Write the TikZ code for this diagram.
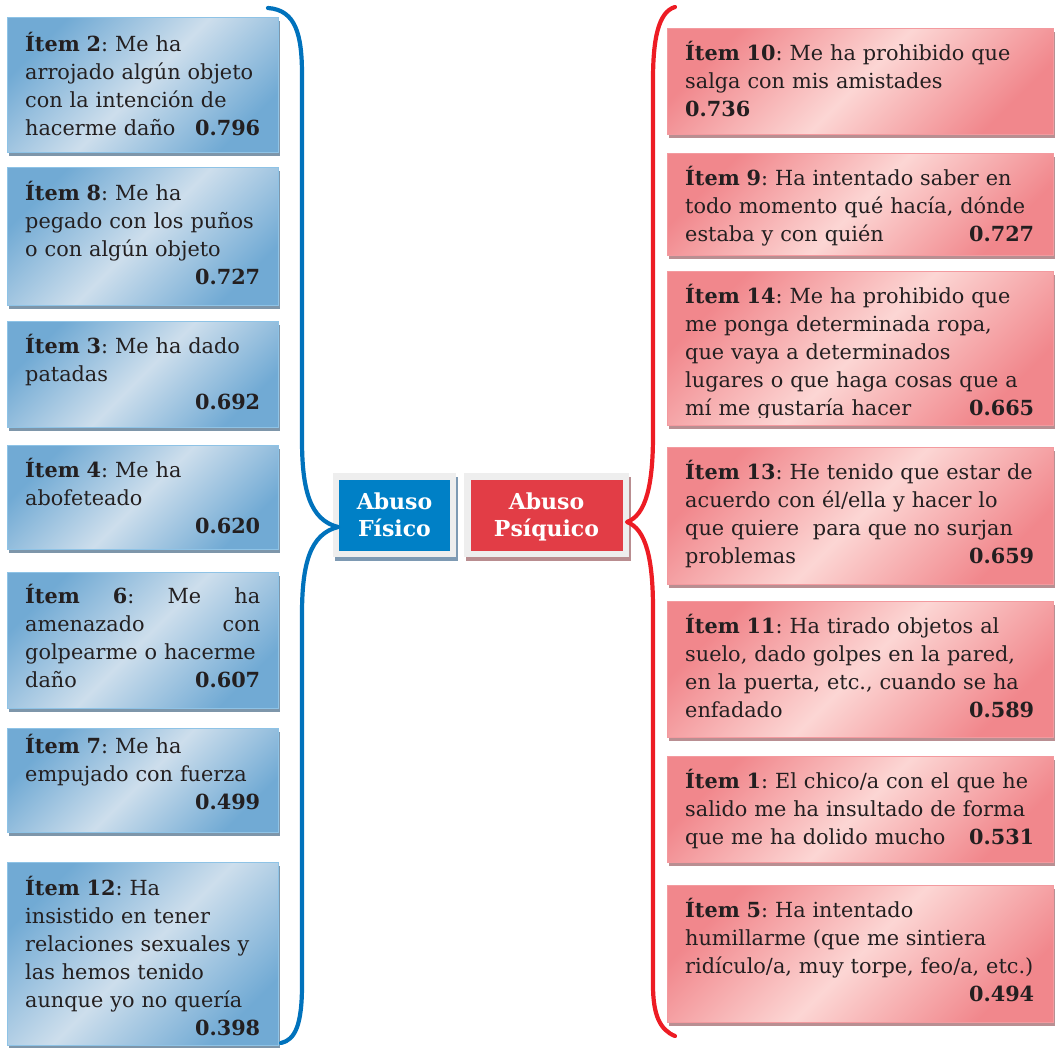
\documentclass[tikz,border=0pt]{standalone}
\usepackage{fontspec}
\setmainfont{DejaVu Serif}
\usetikzlibrary{calc}
\frenchspacing

\definecolor{txt}{HTML}{231F20}
\definecolor{bdark}{HTML}{71AAD4}
\definecolor{blight}{HTML}{CDDEEC}
\definecolor{bline}{HTML}{8EC3E6}
\definecolor{bshadow}{HTML}{7E96AA}
\definecolor{rdark}{HTML}{F1878C}
\definecolor{rlight}{HTML}{FCD6D4}
\definecolor{rline}{HTML}{F39A9F}
\definecolor{rshadow}{HTML}{B98F92}
\definecolor{cblue}{HTML}{0080C6}
\definecolor{cred}{HTML}{E23D46}
\definecolor{cframe}{HTML}{EEEEEE}
\definecolor{cbshadow}{HTML}{7E9AB3}
\definecolor{crshadow}{HTML}{B98D90}
\definecolor{braceblue}{HTML}{0072BC}
\definecolor{bracered}{HTML}{ED1C24}

% keep a line of box text on one line
\newcommand{\oneline}[1]{\mbox{#1}}

\begin{document}
\begin{tikzpicture}[x=1pt,y=-1pt,
  itembox/.style={rectangle, anchor=north west, inner sep=0, line width=0.8pt},
  bluebox/.style={itembox, draw=bline,
    preaction={fill=bshadow, transform canvas={xshift=2pt,yshift=-4pt}},
    top color=bdark, bottom color=bdark, middle color=blight, shading angle=45},
  redbox/.style={itembox, draw=rline,
    preaction={fill=rshadow, transform canvas={xshift=2pt,yshift=-4pt}},
    top color=rdark, bottom color=rdark, middle color=rlight, shading angle=45},
  lefttext/.style={anchor=base west, text width=235pt, align=left, inner sep=0,
    text=txt, font=\fontsize{20.8}{28}\selectfont},
  righttext/.style={lefttext, text width=349pt},
  catbox/.style={rectangle, draw=cframe, line width=6.5pt, minimum height=77.5pt,
    inner sep=0, text=white, align=center,
    font=\fontsize{22}{27}\selectfont\bfseries},
  bracestroke/.style={line width=4.2pt, line join=round, line cap=round}]

\useasboundingbox (0,0) rectangle (1055,1047);

% ---- left column: physical abuse items ----
\node[bluebox, minimum width=271pt, minimum height=135pt] (b2) at (7,17) {};
\node[lefttext] (t2) at ([shift={(18,34)}]b2.north west)
  {\textbf{Ítem 2}: Me ha\\\oneline{arrojado algún objeto}\\con la intención de\\hacerme daño\hfill\textbf{0.796}};

\node[bluebox, minimum width=271pt, minimum height=138pt] (b8) at (7,167) {};
\node[lefttext] (t8) at ([shift={(18,33)}]b8.north west)
  {\textbf{Ítem 8}: Me ha\\\oneline{pegado con los puños}\\o con algún objeto\\\hspace*{\fill}\textbf{0.727}};

\node[bluebox, minimum width=271pt, minimum height=106pt] (b3) at (7,321) {};
\node[lefttext] (t3) at ([shift={(18,32)}]b3.north west)
  {\oneline{\textbf{Ítem 3}: Me ha dado}\\patadas\\\hspace*{\fill}\textbf{0.692}};

\node[bluebox, minimum width=271pt, minimum height=104pt] (b4) at (7,445) {};
\node[lefttext] (t4) at ([shift={(18,32)}]b4.north west)
  {\textbf{Ítem 4}: Me ha\\abofeteado\\\hspace*{\fill}\textbf{0.620}};

\node[bluebox, minimum width=271pt, minimum height=136pt] (b6) at (7,572) {};
\node[lefttext] (t6) at ([shift={(18,31)}]b6.north west)
  {\textbf{Ítem}\hfill\textbf{6}:\hfill Me\hfill ha\\amenazado\hfill con\\\oneline{golpearme o hacerme}\\daño\hfill\textbf{0.607}};

\node[bluebox, minimum width=271pt, minimum height=104pt] (b7) at (7,728) {};
\node[lefttext] (t7) at ([shift={(18,25)}]b7.north west)
  {\textbf{Ítem 7}: Me ha\\\oneline{empujado con fuerza}\\\hspace*{\fill}\textbf{0.499}};

\node[bluebox, minimum width=271pt, minimum height=183pt] (b12) at (7,862) {};
\node[lefttext] (t12) at ([shift={(18,33)}]b12.north west)
  {\textbf{Ítem 12}: Ha\\insistido en tener\\\oneline{relaciones sexuales y}\\las hemos tenido\\\oneline{aunque yo no quería}\\\hspace*{\fill}\textbf{0.398}};

% ---- right column: psychological abuse items ----
\node[redbox, minimum width=386pt, minimum height=106pt] (b10) at (667,28) {};
\node[righttext] (t10) at ([shift={(18,32)}]b10.north west)
  {\oneline{\textbf{Ítem 10}: Me ha prohibido que}\\salga con mis amistades\\\textbf{0.736}};

\node[redbox, minimum width=386pt, minimum height=102pt] (b9) at (667,153) {};
\node[righttext] (t9) at ([shift={(18,32)}]b9.north west)
  {\oneline{\textbf{Ítem 9}: Ha intentado saber en}\\\oneline{todo momento qué hacía, dónde}\\estaba y con quién\hfill\textbf{0.727}};

\node[redbox, minimum width=386pt, minimum height=154pt] (b14) at (667,271) {};
\begin{scope}
  \clip (b14.north west) rectangle ([shift={(0,-8)}]b14.south east);
  \node[righttext] (t14) at ([shift={(18,32)}]b14.north west)
    {\oneline{\textbf{Ítem 14}: Me ha prohibido que}\\\oneline{me ponga determinada ropa,}\\que vaya a determinados\\\oneline{lugares o que haga cosas que a}\\mí me gustaría hacer\hfill\textbf{0.665}};
\end{scope}

\node[redbox, minimum width=386pt, minimum height=137pt] (b13) at (667,447) {};
\node[righttext] (t13) at ([shift={(18,32)}]b13.north west)
  {\oneline{\textbf{Ítem 13}: He tenido que estar de}\\\oneline{acuerdo con él/ella y hacer lo}\\\oneline{que quiere\ \ para que no surjan}\\problemas\hfill\textbf{0.659}};

\node[redbox, minimum width=386pt, minimum height=136pt] (b11) at (667,601) {};
\node[righttext] (t11) at ([shift={(18,32)}]b11.north west)
  {\oneline{\textbf{Ítem 11}: Ha tirado objetos al}\\\oneline{suelo, dado golpes en la pared,}\\\oneline{en la puerta, etc., cuando se ha}\\enfadado\hfill\textbf{0.589}};

\node[redbox, minimum width=386pt, minimum height=106pt] (b1) at (667,756) {};
\node[righttext] (t1) at ([shift={(18,32)}]b1.north west)
  {\oneline{\textbf{Ítem 1}: El chico/a con el que he}\\\oneline{salido me ha insultado de forma}\\que me ha dolido mucho\hfill\textbf{0.531}};

\node[redbox, minimum width=386pt, minimum height=137pt] (b5) at (667,885) {};
\node[righttext] (t5) at ([shift={(18,32)}]b5.north west)
  {\textbf{Ítem 5}: Ha intentado\\\oneline{humillarme (que me sintiera}\\\oneline{ridículo/a, muy torpe, feo/a, etc.)}\\\hspace*{\fill}\textbf{0.494}};

% ---- central category boxes ----
\node[catbox, fill=cblue, minimum width=117pt, text depth=0pt,
  preaction={draw=cbshadow, fill=cbshadow, line width=6.5pt, transform canvas={xshift=2pt,yshift=-4pt}}]
  (fis) at (394.5,515) {Abuso\\Físico};
\node[catbox, fill=cred, minimum width=158.5pt, text depth=0pt,
  preaction={draw=crshadow, fill=crshadow, line width=6.5pt, transform canvas={xshift=2pt,yshift=-4pt}}]
  (psi) at (546.5,515) {Abuso\\Psíquico};

% ---- braces ----
\coordinate (ftip) at (338,527);
\coordinate (ptip) at (627,522);
\draw[bracestroke, draw=braceblue]
  (268,8) .. controls (296,10) and (302,35) .. (302,75) -- (302,440)
  .. controls (302,490) and (310,520) .. (ftip)
  .. controls (310,534) and (302,564) .. (302,614) -- (302,985)
  .. controls (302,1025) and (295,1040) .. (281,1043);
\draw[bracestroke, draw=bracered]
  (675,7) .. controls (658,12) and (653,40) .. (653,80) -- (653,435)
  .. controls (653,485) and (646,515) .. (ptip)
  .. controls (646,529) and (653,559) .. (653,609) -- (653,985)
  .. controls (653,1015) and (660,1030) .. (675,1036);
\end{tikzpicture}
\end{document}
